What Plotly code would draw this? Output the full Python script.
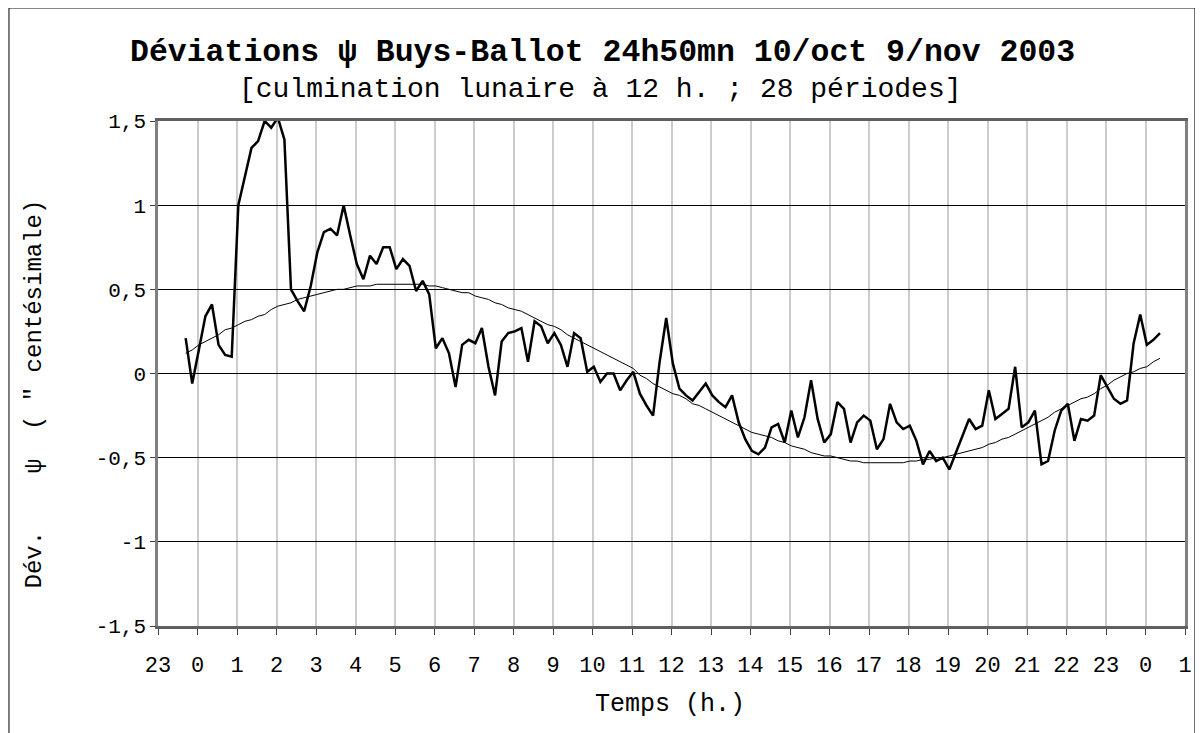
import plotly.graph_objects as go

# ---- data ----
hour_labels = ["23", "0", "1", "2", "3", "4", "5", "6", "7", "8", "9", "10", "11", "12",
               "13", "14", "15", "16", "17", "18", "19", "20", "21", "22", "23", "0", "1"]
y_tick_vals = [-1.5, -1.0, -0.5, 0.0, 0.5, 1.0, 1.5]
y_tick_text = ["-1,5", "-1", "-0,5", "0", "0,5", "1", "1,5"]

start_offset_h = 0.7      # first sample, hours after the first "23" label
step_h = 1.0 / 6.0        # 10-minute samples

deviation = [
    0.21, -0.06, 0.14, 0.34, 0.41, 0.17, 0.11, 0.10, 1.00, 1.18,
    1.34, 1.38, 1.50, 1.46, 1.52, 1.39, 0.50, 0.43, 0.37, 0.52,
    0.72, 0.84, 0.86, 0.82, 1.00, 0.82, 0.65, 0.56, 0.70, 0.65,
    0.75, 0.75, 0.62, 0.68, 0.64, 0.49, 0.55, 0.47, 0.15, 0.21,
    0.12, -0.08, 0.17, 0.20, 0.18, 0.27, 0.04, -0.13, 0.19, 0.24,
    0.25, 0.27, 0.07, 0.31, 0.28, 0.18, 0.24, 0.17, 0.04, 0.24,
    0.21, 0.01, 0.04, -0.05, 0.00, 0.00, -0.10, -0.04, 0.01, -0.12,
    -0.19, -0.25, 0.07, 0.33, 0.06, -0.09, -0.13, -0.16, -0.11, -0.06,
    -0.13, -0.17, -0.20, -0.13, -0.29, -0.39, -0.46, -0.48, -0.44, -0.32,
    -0.30, -0.41, -0.22, -0.38, -0.26, -0.04, -0.27, -0.41, -0.36, -0.17,
    -0.21, -0.41, -0.29, -0.25, -0.28, -0.45, -0.39, -0.18, -0.29, -0.33,
    -0.31, -0.40, -0.54, -0.46, -0.52, -0.50, -0.57, -0.47, -0.36, -0.27,
    -0.33, -0.31, -0.10, -0.27, -0.24, -0.21, 0.04, -0.32, -0.29, -0.22,
    -0.54, -0.52, -0.34, -0.22, -0.18, -0.40, -0.27, -0.28, -0.25, -0.01,
    -0.08, -0.15, -0.18, -0.16, 0.18, 0.35, 0.17, 0.20, 0.24,
]

smoothed = [
    0.12, 0.14, 0.17, 0.19, 0.21, 0.23, 0.26, 0.27, 0.29, 0.31,
    0.32, 0.34, 0.35, 0.38, 0.40, 0.41, 0.42, 0.44, 0.45, 0.46,
    0.47, 0.48, 0.49, 0.50, 0.50, 0.51, 0.52, 0.52, 0.52, 0.53,
    0.53, 0.53, 0.53, 0.53, 0.53, 0.53, 0.53, 0.52, 0.52, 0.51,
    0.50, 0.49, 0.48, 0.48, 0.46, 0.45, 0.44, 0.42, 0.41, 0.39,
    0.38, 0.37, 0.35, 0.33, 0.31, 0.29, 0.28, 0.26, 0.23, 0.21,
    0.19, 0.17, 0.15, 0.13, 0.11, 0.09, 0.07, 0.05, 0.03, -0.01,
    -0.03, -0.06, -0.08, -0.10, -0.12, -0.13, -0.15, -0.18, -0.19, -0.21,
    -0.23, -0.25, -0.27, -0.29, -0.31, -0.33, -0.35, -0.36, -0.37, -0.38,
    -0.40, -0.41, -0.43, -0.44, -0.45, -0.47, -0.48, -0.49, -0.49, -0.50,
    -0.51, -0.52, -0.52, -0.53, -0.53, -0.53, -0.53, -0.53, -0.53, -0.53,
    -0.52, -0.52, -0.51, -0.51, -0.50, -0.50, -0.49, -0.48, -0.47, -0.46,
    -0.45, -0.44, -0.42, -0.41, -0.39, -0.38, -0.36, -0.34, -0.32, -0.30,
    -0.28, -0.26, -0.23, -0.21, -0.19, -0.17, -0.15, -0.14, -0.12, -0.09,
    -0.07, -0.04, -0.02, 0.00, 0.01, 0.03, 0.04, 0.07, 0.09,
]

x_hours = [start_offset_h + i * step_h for i in range(len(deviation))]

FONT = "Liberation Mono, Courier New, monospace"
NB = "\u00a0"

fig = go.Figure()
fig.add_trace(go.Scatter(x=x_hours, y=smoothed, mode="lines",
                         line=dict(color="black", width=1), showlegend=False))
fig.add_trace(go.Scatter(x=x_hours, y=deviation, mode="lines",
                         line=dict(color="black", width=2.5), showlegend=False))

y_title = "Dév." + NB * 4 + "ψ" + NB * 2 + "(" + NB + "\"" + NB + "centésimale)"

fig.update_layout(
    width=1195, height=725,
    margin=dict(l=150, r=18, t=113, b=107, pad=0),
    paper_bgcolor="white", plot_bgcolor="white",
    font=dict(family=FONT, color="black"),
    xaxis=dict(range=[0, 26], tickmode="array", tickvals=list(range(27)),
               ticktext=hour_labels, showgrid=True, gridcolor="#cccccc", gridwidth=1.5,
               zeroline=False, showline=True, linecolor="#606060", linewidth=2.5,
               mirror=True, ticks="outside", ticklen=6, tickcolor="#404040",
               tickfont=dict(family=FONT, size=22), ticklabelstandoff=11),
    yaxis=dict(range=[-1.5, 1.5], tickmode="array", tickvals=y_tick_vals,
               ticktext=y_tick_text, showgrid=True, gridcolor="black", gridwidth=1,
               zeroline=False, showline=True, linecolor="#808080", linewidth=2.5,
               mirror=True, ticks="outside", ticklen=5, tickcolor="#404040",
               tickfont=dict(family=FONT, size=21)),
    annotations=[
        dict(text="<b>Déviations ψ Buys-Ballot 24h50mn 10/oct 9/nov 2003</b>",
             xref="paper", yref="paper", x=0.4333, y=1.1366, showarrow=False,
             xanchor="center", yanchor="middle", font=dict(family=FONT, size=31.5)),
        dict(text="[culmination lunaire à 12 h. ; 28 périodes]",
             xref="paper", yref="paper", x=0.4304, y=1.0614, showarrow=False,
             xanchor="center", yanchor="middle", font=dict(family=FONT, size=28)),
        dict(text="Temps (h.)", xref="paper", yref="paper", x=0.4985, y=-0.156,
             showarrow=False, xanchor="center", yanchor="middle",
             font=dict(family=FONT, size=25)),
        dict(text=y_title, xref="paper", yref="paper",
             x=-0.1198, y=0.4604, textangle=-90, showarrow=False,
             xanchor="center", yanchor="middle", font=dict(family=FONT, size=24)),
    ],
    shapes=[
        dict(type="rect", xref="paper", yref="paper",
             x0=-0.1451, x1=1.0097, y0=-0.23, y1=1.2238,
             line=dict(color="black", width=1), fillcolor="rgba(0,0,0,0)", layer="below"),
    ],
)

fig.write_html("out.html")
